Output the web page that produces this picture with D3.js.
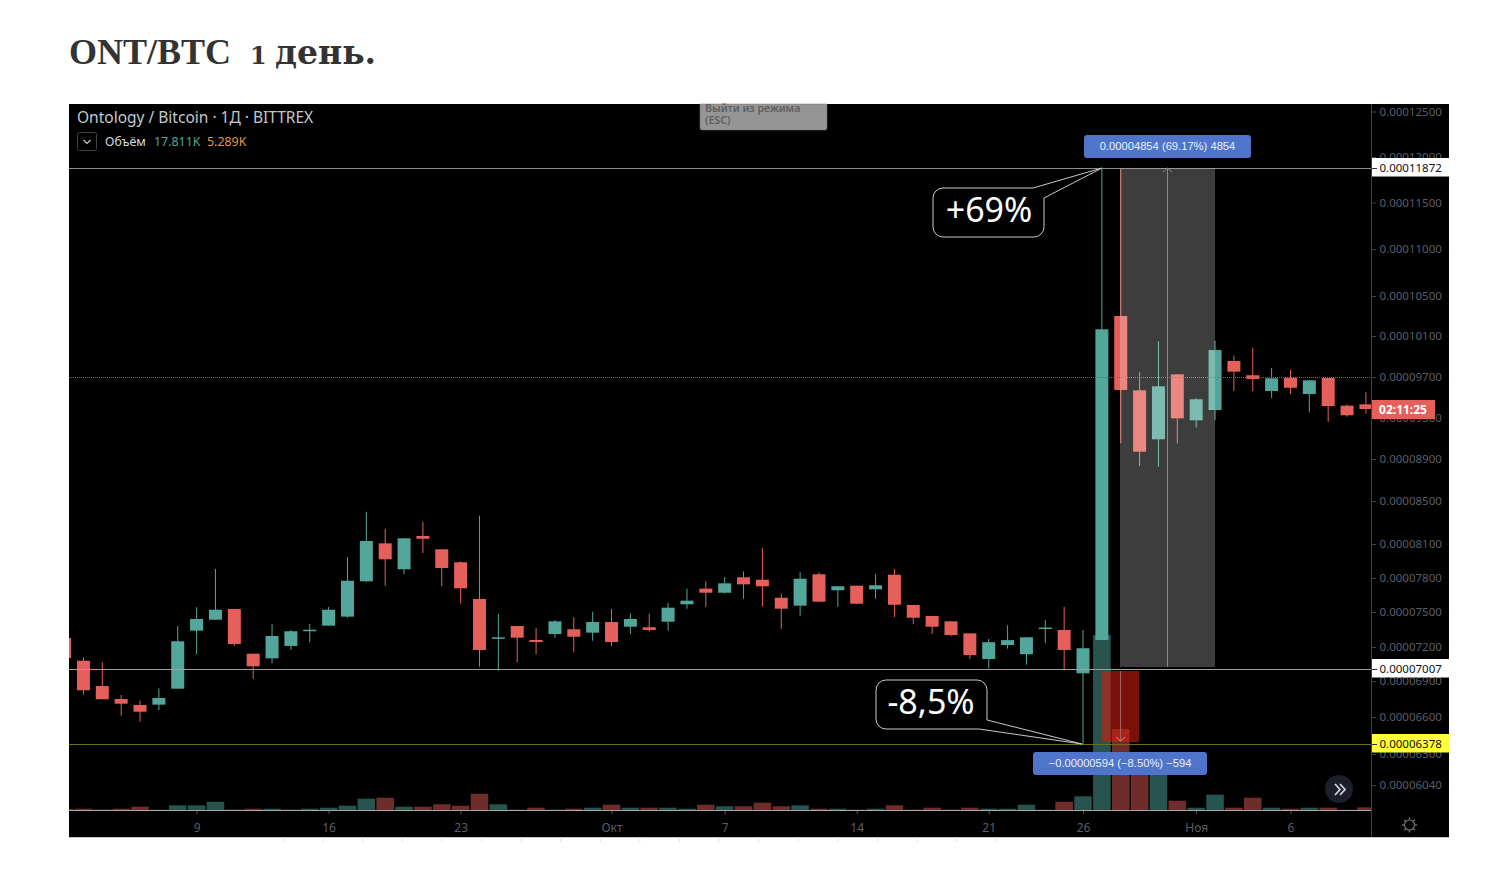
<!DOCTYPE html>
<html>
<head>
<meta charset="utf-8">
<title>ONT/BTC</title>
<script src="https://cdn.jsdelivr.net/npm/d3@7"></script>
<style>
    html, body { margin: 0; padding: 0; background: #fff; }
    svg { display: block; }
    text { font-family: "Noto Sans", sans-serif; }
</style>
</head>
<body>
<svg id="chart" width="1506" height="882"></svg>
<script>
// Prices are in satoshi (1e-8 BTC), volume in thousands
let first_day = new Date(Date.UTC(2019, 8, 2))

let open_prices = [7277, 7079, 6858, 6750, 6700, 6703, 6836, 7340, 7434, 7527,
    7141, 7100, 7209, 7337, 7383, 7460, 7771, 8106, 7877, 8175,
    8053, 7939, 7615, 7271, 7380, 7260, 7311, 7352, 7323, 7414,
    7374, 7369, 7417, 7568, 7706, 7670, 7806, 7785, 7626, 7556,
    7833, 7692, 7732, 7700, 7829, 7562, 7466, 7420, 7317, 7094,
    7217, 7136, 7359, 7346, 6968, 7260, 10300, 9569, 9090, 9726,
    9273, 9374, 9856, 9717, 9562, 9693, 9532, 9690, 9417, 9430]

let close_prices = [7103, 6823, 6748, 6711, 6644, 6758, 7249, 7440, 7520, 7226,
    7030, 7294, 7335, 7348, 7520, 7776, 8128, 7965, 8153, 8149,
    7888, 7709, 7174, 7283, 7280, 7243, 7420, 7288, 7414, 7243,
    7440, 7346, 7538, 7600, 7670, 7753, 7744, 7727, 7529, 7794,
    7591, 7727, 7573, 7736, 7564, 7451, 7374, 7303, 7129, 7241,
    7259, 7283, 7367, 7174, 7189, 10167, 9572, 8970, 9608, 9292,
    9480, 9963, 9752, 9680, 9687, 9594, 9667, 9413, 9322, 9384]

let high_prices = [7303, 7109, 7065, 6783, 6736, 6839, 7380, 7542, 7880, 7527,
    7141, 7397, 7346, 7397, 7544, 7985, 8400, 8242, 8153, 8305,
    8053, 7947, 8363, 7483, 7380, 7363, 7431, 7455, 7503, 7527,
    7489, 7485, 7579, 7706, 7771, 7809, 7859, 8065, 7665, 7850,
    7850, 7727, 7732, 7833, 7880, 7562, 7466, 7420, 7317, 7269,
    7386, 7283, 7431, 7547, 7346, 11872, 11872, 9749, 10048, 9726,
    9493, 10054, 9908, 9986, 9788, 9769, 9667, 9690, 9430, 9549]

let low_prices = [7085, 6786, 6748, 6611, 6562, 6658, 6836, 7136, 7434, 7209,
    6920, 7056, 7174, 7241, 7383, 7451, 7762, 7732, 7835, 8021,
    7727, 7573, 7026, 6991, 7065, 7136, 7280, 7153, 7254, 7209,
    7311, 7332, 7340, 7529, 7544, 7662, 7617, 7547, 7354, 7468,
    7591, 7544, 7573, 7617, 7457, 7397, 7311, 7294, 7094, 7012,
    7185, 7044, 7234, 6994, 6378, 7260, 9051, 8833, 8827, 9048,
    9202, 9273, 9562, 9562, 9490, 9532, 9351, 9259, 9308, 9338]

let volumes = [2, 2.6, 1, 2.6, 6.6, 0.6, 9.4, 9.4, 16.6, 1,
    2.6, 2.6, 0.8, 2.6, 4.6, 8.6, 22.6, 24.6, 6.6, 6.6,
    11.4, 8.6, 32.6, 11.4, 0.8, 4.6, 0.8, 2.6, 4.6, 10.6,
    4.6, 4.6, 4.6, 2.6, 10.6, 7.4, 7.4, 14.6, 7.4, 9.4,
    2.6, 2.6, 0.8, 2.6, 9.4, 0.8, 4.6, 0.8, 4.6, 2.6,
    2.6, 10.6, 0.6, 16.6, 27.4, 350, 162, 100, 90, 18.6,
    4.6, 30.6, 4.6, 24.6, 4.6, 2.6, 4.6, 4.6, 0.6, 5.289]

let price_ticks = [12500, 12000, 11500, 11000, 10500, 10100, 9700, 9300, 8900,
    8500, 8100, 7800, 7500, 7200, 6900, 6600, 6300, 6040]
let price_tick_ys = [111.5, 157, 202.5, 249, 296, 336, 377, 417.5, 459,
    501, 544, 578, 612, 647, 681, 717, 754, 785]

let time_ticks = [[2019, 8, 9, '9'], [2019, 8, 16, '16'], [2019, 8, 23, '23'],
    [2019, 9, 1, 'Окт'], [2019, 9, 7, '7'], [2019, 9, 14, '14'], [2019, 9, 21, '21'],
    [2019, 9, 26, '26'], [2019, 10, 1, 'Ноя'], [2019, 10, 6, '6']]

let level_high = 11872
let level_base = 7007
let level_low = 6378
let level_last = 9700

let green = '#53a69a'
let red = '#e5605a'

let xleft = 69
let xaxis = 1371
let xright = 1449
let ytop = 104
let yaxis = 810
let ybottom = 837

let svg = d3.select('#chart')

let days = d3.utcDay.range(first_day, d3.utcDay.offset(first_day, open_prices.length))
let day_px = 18.86

let x = d3.scaleUtc()
    .domain([new Date(Date.UTC(2019, 8, 9)), new Date(Date.UTC(2019, 10, 6))])
    .range([196.6, 196.6 + day_px * 58])

let y = d3.scaleLinear().domain(price_ticks).range(price_tick_ys)
let yvol = d3.scaleLinear().domain([0, 360]).range([yaxis, yaxis - 180])

function is_up(i) {
    return close_prices[i] >= open_prices[i]
}

function level_y(price) {
    return Math.round(y(price) - 0.2)
}

function draw_title() {
    let title = svg.append('text')
        .attr('y', 64)
        .attr('fill', '#333')
        .style('font-weight', 'bold')

    title.append('tspan')
        .attr('x', xleft)
        .style('font-family', '"Liberation Serif", serif')
        .style('font-size', '36px')
        .text('ONT/BTC')

    title.append('tspan')
        .attr('x', 250)
        .style('font-family', '"DejaVu Serif", serif')
        .style('font-size', '24px')
        .text('1')

    title.append('tspan')
        .attr('x', 275)
        .style('font-family', '"DejaVu Serif", serif')
        .style('font-size', '33px')
        .text('день.')
}

function draw_background() {
    svg.append('rect')
        .attr('x', xleft).attr('y', ytop)
        .attr('width', xright - xleft).attr('height', ybottom - ytop)
        .attr('fill', '#000')

    svg.append('defs').append('clipPath').attr('id', 'pane')
        .append('rect')
        .attr('x', xleft).attr('y', ytop)
        .attr('width', xaxis - xleft).attr('height', yaxis - ytop)
}

function draw_axes() {
    let price_axis = d3.axisRight(y)
        .tickValues(price_ticks)
        .tickSize(5)
        .tickPadding(3.5)
        .tickFormat(d => (d / 1e8).toFixed(8))

    let g = svg.append('g')
        .attr('transform', `translate(${xaxis}, 0)`)
        .call(price_axis)
    g.select('.domain').remove()
    g.selectAll('line').attr('stroke', '#3d414b')
    g.selectAll('text')
        .attr('fill', '#5a5e68')
        .style('font-size', '11.5px')

    svg.append('line')
        .attr('x1', xaxis + 0.5).attr('x2', xaxis + 0.5)
        .attr('y1', ytop).attr('y2', ybottom)
        .attr('stroke', '#3d414b')

    let time_axis = d3.axisBottom(x)
        .tickValues(time_ticks.map(d => new Date(Date.UTC(d[0], d[1], d[2]))))
        .tickSize(4)
        .tickPadding(9)
        .tickFormat((d, i) => time_ticks[i][3])

    let t = svg.append('g')
        .attr('transform', `translate(0, ${yaxis})`)
        .call(time_axis)
    t.select('.domain').remove()
    t.selectAll('line').attr('stroke', '#555')
    t.selectAll('text')
        .attr('fill', '#5a5e68')
        .style('font-size', '12px')

    svg.append('line')
        .attr('x1', xleft).attr('x2', xaxis)
        .attr('y1', yaxis + 0.5).attr('y2', yaxis + 0.5)
        .attr('stroke', '#a8a8a8')
}

function draw_volume(pane) {
    pane.selectAll('.vol')
        .data(days)
        .join('rect')
        .classed('vol', true)
        .attr('x', d => x(d) - 8.8)
        .attr('width', 17.6)
        .attr('y', (d, i) => yvol(volumes[i]))
        .attr('height', (d, i) => yaxis - yvol(volumes[i]))
        .attr('fill', (d, i) => is_up(i) ? '#27544e' : '#6e2d2b')
}

function draw_candles(pane) {
    pane.selectAll('.wick')
        .data(days)
        .join('line')
        .classed('wick', true)
        .attr('x1', d => x(d))
        .attr('x2', d => x(d))
        .attr('y1', (d, i) => y(high_prices[i]))
        .attr('y2', (d, i) => y(low_prices[i]))
        .attr('stroke', (d, i) => is_up(i) ? green : red)
        .attr('stroke-width', 1)

    pane.selectAll('.body')
        .data(days)
        .join('rect')
        .classed('body', true)
        .attr('x', d => x(d) - 6.5)
        .attr('width', 13)
        .attr('y', (d, i) => y(Math.max(open_prices[i], close_prices[i])))
        .attr('height', (d, i) => Math.max(1.5, Math.abs(y(open_prices[i]) - y(close_prices[i]))))
        .attr('fill', (d, i) => is_up(i) ? green : red)
}

function draw_levels() {
    let levels = [
        [level_high, '#8c8c8c', null],
        [level_base, '#a0a0a0', null],
        [level_low, '#6e7016', null],
        [level_last, '#3a8075', '1,1']
    ]
    levels.forEach(function(l) {
        svg.append('line')
            .attr('x1', xleft).attr('x2', xaxis)
            .attr('y1', level_y(l[0]) + 0.5).attr('y2', level_y(l[0]) + 0.5)
            .attr('stroke', l[1])
            .attr('stroke-dasharray', l[2])
    })
}

function draw_ranges() {
    // grey long range (gain), red range (drop)
    svg.append('rect')
        .attr('x', 1120).attr('width', 95)
        .attr('y', level_y(level_high) + 0.5).attr('height', 667 - level_y(level_high) - 0.5)
        .attr('fill', 'rgba(255,255,255,0.24)')

    svg.append('line')
        .attr('x1', 1167.5).attr('x2', 1167.5)
        .attr('y1', level_y(level_high)).attr('y2', 667)
        .attr('stroke', '#8a8a8a')

    svg.append('path')
        .attr('d', 'M1163,172L1167.5,168L1172,172')
        .attr('fill', 'none').attr('stroke', '#8a8a8a')

    svg.append('rect')
        .attr('x', 1102).attr('width', 37)
        .attr('y', 671).attr('height', 71)
        .attr('fill', 'rgba(210,30,14,0.58)')

    svg.append('line')
        .attr('x1', 1120.5).attr('x2', 1120.5)
        .attr('y1', 671).attr('y2', 741)
        .attr('stroke', '#a8645a')

    svg.append('path')
        .attr('d', 'M1116,737L1120.5,741L1125,737')
        .attr('fill', 'none').attr('stroke', '#d09088')
}

function draw_callout(d, label, tx, ty) {
    svg.append('path')
        .attr('d', d)
        .attr('fill', '#000')
        .attr('stroke', '#c8c8c8')

    svg.append('text')
        .attr('x', tx).attr('y', ty)
        .attr('text-anchor', 'middle')
        .attr('fill', '#fff')
        .style('font-size', '34px')
        .text(label)
}

function draw_pill(px, py, w, h, label) {
    svg.append('rect')
        .attr('x', px).attr('y', py)
        .attr('width', w).attr('height', h)
        .attr('rx', 3)
        .attr('fill', '#4e75c9')

    svg.append('text')
        .attr('x', px + w / 2).attr('y', py + h / 2 + 3)
        .attr('text-anchor', 'middle')
        .attr('fill', '#e8eefa')
        .style('font-family', '"Liberation Sans", sans-serif')
        .style('font-size', '11.2px')
        .text(label)
}

function draw_price_label(price, fill) {
    let py = level_y(price)
    svg.append('rect')
        .attr('x', xaxis + 1).attr('y', py - 10)
        .attr('width', xright - xaxis - 1).attr('height', 18.5)
        .attr('fill', fill)

    svg.append('line')
        .attr('x1', xaxis + 1).attr('x2', xaxis + 6)
        .attr('y1', py + 0.5).attr('y2', py + 0.5)
        .attr('stroke', '#333')

    svg.append('text')
        .attr('x', xaxis + 8.5).attr('y', py + 3.5)
        .attr('fill', '#111')
        .style('font-size', '11.5px')
        .text((price / 1e8).toFixed(8))
}

function draw_header() {
    svg.append('text')
        .attr('x', 77).attr('y', 122.5)
        .attr('fill', '#c4c8ce')
        .style('font-size', '15.5px')
        .text('Ontology / Bitcoin · 1Д · BITTREX')

    svg.append('rect')
        .attr('x', 77.5).attr('y', 132.5)
        .attr('width', 19).attr('height', 18)
        .attr('rx', 2)
        .attr('fill', 'none').attr('stroke', '#3f434d')

    svg.append('path')
        .attr('d', 'M83.5,140L87,143.5L90.5,140')
        .attr('fill', 'none').attr('stroke', '#c4c8ce').attr('stroke-width', 1.2)

    let legend = [[105, 'Объём', '#d8dade'], [154, '17.811K', green], [207, '5.289K', '#e0964f']]
    legend.forEach(function(l) {
        svg.append('text')
            .attr('x', l[0]).attr('y', 146)
            .attr('fill', l[2])
            .style('font-size', '12.4px')
            .text(l[1])
    })

    svg.append('path')
        .attr('d', 'M700,104H827V128a2,2 0 0 1 -2,2H702a2,2 0 0 1 -2,-2Z')
        .attr('fill', '#959595')
        .attr('stroke', '#777')
        .attr('stroke-width', 0.5)

    let esc = [[112, 'Выйти из режима'], [124, '(ESC)']]
    esc.forEach(function(l) {
        svg.append('text')
            .attr('x', 705).attr('y', l[0])
            .attr('fill', '#5f5f5f')
            .style('font-size', '10.6px')
            .style('font-weight', '600')
            .text(l[1])
    })
}

function draw_controls() {
    svg.append('circle')
        .attr('cx', 1339).attr('cy', 789).attr('r', 14)
        .attr('fill', '#1c1f2b')

    svg.append('path')
        .attr('d', 'M1335,784L1340,789.5L1335,795M1340,784L1345,789.5L1340,795')
        .attr('fill', 'none').attr('stroke', '#d0d3da').attr('stroke-width', 1.8)

    svg.append('rect')
        .attr('x', xaxis + 1).attr('y', 400)
        .attr('width', 63).attr('height', 19)
        .attr('fill', red)

    svg.append('text')
        .attr('x', 1403).attr('y', 414)
        .attr('text-anchor', 'middle')
        .attr('fill', '#fff')
        .style('font-size', '12px')
        .style('font-weight', 'bold')
        .text('02:11:25')

    // settings gear
    let gear = svg.append('g').attr('transform', 'translate(1409.5, 825)')
    gear.append('circle').attr('r', 5)
        .attr('fill', 'none').attr('stroke', '#6a6d75').attr('stroke-width', 1.2)
    d3.range(8).forEach(function(i) {
        gear.append('line')
            .attr('x1', 0).attr('x2', 0)
            .attr('y1', -5).attr('y2', -7.5)
            .attr('stroke', '#6a6d75').attr('stroke-width', 1.4)
            .attr('transform', `rotate(${i * 45})`)
    })
}

// leftover of the page below the screenshot
function draw_bottom_edge() {
    svg.append('line')
        .attr('x1', xleft).attr('x2', xright)
        .attr('y1', ybottom + 0.5).attr('y2', ybottom + 0.5)
        .attr('stroke', '#c4c4c4')

    d3.range(283.5, 1033, 39.6).forEach(function(tx) {
        svg.append('line')
            .attr('x1', tx).attr('x2', tx)
            .attr('y1', ybottom).attr('y2', ybottom + 5)
            .attr('stroke', '#e2e2e2')
    })
}

draw_title()
draw_background()
draw_axes()

let pane = svg.append('g').attr('clip-path', 'url(#pane)')
draw_volume(pane)
draw_candles(pane)

draw_levels()
draw_ranges()

draw_callout('M943,188H1033L1102,168L1044,198V227a10,10 0 0 1 -10,10H943a10,10 0 0 1 -10,-10V198a10,10 0 0 1 10,-10Z',
    '+69%', 989, 222)
draw_callout('M886,680H977a10,10 0 0 1 10,10V720L1082,744L979,729H886a10,10 0 0 1 -10,-10V690a10,10 0 0 1 10,-10Z',
    '-8,5%', 931, 714)

draw_pill(1084, 135, 167, 23, '0.00004854 (69.17%) 4854')
draw_pill(1033, 752, 174, 23, '−0.00000594 (−8.50%) −594')

draw_price_label(level_high, '#fff')
draw_price_label(level_base, '#fff')
draw_price_label(level_low, '#ffff3a')

draw_header()
draw_controls()
draw_bottom_edge()
</script>
</body>
</html>
